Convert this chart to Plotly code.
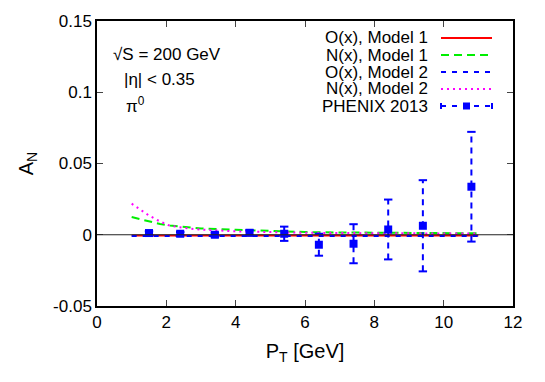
import plotly.graph_objects as go

# model curves
pt_model = [1.0, 1.33, 1.5, 1.82, 2.1, 2.7, 3.0, 4.0, 5.0, 6.0, 7.0, 8.0, 9.0, 10.0, 11.0]
o_model1 = [-0.0005] * len(pt_model)
n_model1 = [0.0124, 0.0105, 0.0093, 0.0075, 0.0065, 0.0049, 0.0044, 0.0035, 0.0026, 0.0019, 0.0016, 0.0014, 0.0012, 0.0011, 0.0010]
o_model2 = [-0.0008] * len(pt_model)
n_model2 = [0.0218, 0.0164, 0.0135, 0.0093, 0.0063, 0.0042, 0.0036, 0.0024, 0.0018, 0.0014, 0.0012, 0.0010, 0.0009, 0.0008, 0.0008]

# PHENIX 2013 data
pt_data = [1.5, 2.4, 3.4, 4.4, 5.4, 6.4, 7.4, 8.4, 9.4, 10.8]
an_data = [0.0012, 0.0007, 0.0, 0.0014, 0.0007, -0.007, -0.0063, 0.0037, 0.0063, 0.0337]
an_err = [0.0012, 0.0012, 0.0014, 0.0018, 0.005, 0.0077, 0.0137, 0.021, 0.032, 0.0385]

x_ticks = [0, 2, 4, 6, 8, 10, 12]
y_ticks = [-0.05, 0, 0.05, 0.1, 0.15]
y_tick_text = ["-0.05", "0", "0.05", "0.1", "0.15"]

FONT = "Liberation Sans, Arial, Helvetica, sans-serif"
FS = 17
BLUE = "#0000ff"
DASH_G = "8px,5px"
DASH_B = "5px,6px"
DASH_M = "2px,4px"

fig = go.Figure()

# zero line
fig.add_hline(y=0, line=dict(color="#222222", width=1))

fig.add_trace(go.Scatter(x=pt_model, y=o_model1, mode="lines",
                         line=dict(color="#ff0000", width=2), showlegend=False))
fig.add_trace(go.Scatter(x=pt_model, y=n_model1, mode="lines",
                         line=dict(color="#00ee00", width=2, dash=DASH_G), showlegend=False))
fig.add_trace(go.Scatter(x=pt_model, y=o_model2, mode="lines",
                         line=dict(color=BLUE, width=2, dash=DASH_B), showlegend=False))
fig.add_trace(go.Scatter(x=pt_model, y=n_model2, mode="lines",
                         line=dict(color="#ff00ff", width=2, dash=DASH_M), showlegend=False))

# dashed error bars
ex, ey = [], []
cx, cy = [], []
for x, y, e in zip(pt_data, an_data, an_err):
    ex += [x, x, None]
    ey += [y - e, y + e, None]
    cx += [x, x]
    cy += [y - e, y + e]
fig.add_trace(go.Scatter(x=ex, y=ey, mode="lines",
                         line=dict(color=BLUE, width=2, dash="6px,5px"), showlegend=False))
fig.add_trace(go.Scatter(x=cx, y=cy, mode="markers",
                         marker=dict(symbol="line-ew", size=6, line=dict(color=BLUE, width=2)),
                         showlegend=False))
fig.add_trace(go.Scatter(x=pt_data, y=an_data, mode="markers",
                         marker=dict(symbol="square", size=8, color=BLUE), showlegend=False))

# legend drawn by hand (gnuplot style: text left, sample right)
legend_rows = [
    ("O(x), Model 1", "#ff0000", "solid"),
    ("N(x), Model 1", "#00ee00", DASH_G),
    ("O(x), Model 2", BLUE, DASH_B),
    ("N(x), Model 2", "#ff00ff", DASH_M),
    ("PHENIX 2013", BLUE, DASH_B),
]
row_py = [38, 55, 72, 89, 106]


def px_x(p):
    return (p - 97) / 416


def px_y(p):
    return (306 - p) / 285


for (label, color, dash), py in zip(legend_rows, row_py):
    fig.add_annotation(x=px_x(430), y=px_y(py), xref="paper", yref="paper",
                       text=label, showarrow=False, xanchor="right", yanchor="middle",
                       font=dict(size=FS, color="black", family=FONT))
    fig.add_shape(type="line", xref="paper", yref="paper",
                  x0=px_x(441), x1=px_x(492), y0=px_y(py), y1=px_y(py),
                  line=dict(color=color, width=2, dash=dash))
# PHENIX sample: square and end caps
fig.add_shape(type="rect", xref="paper", yref="paper",
              x0=px_x(463), x1=px_x(470), y0=px_y(109.5), y1=px_y(102.5),
              fillcolor=BLUE, line=dict(width=0))
for cap in (441, 492):
    fig.add_shape(type="line", xref="paper", yref="paper",
                  x0=px_x(cap), x1=px_x(cap), y0=px_y(103), y1=px_y(109),
                  line=dict(color=BLUE, width=2))

# text labels
fig.add_annotation(x=px_x(111), y=px_y(43), xref="paper", yref="paper",
                   text="√S = 200 GeV", showarrow=False, xanchor="left",
                   font=dict(size=FS, color="black", family=FONT))
fig.add_annotation(x=px_x(122), y=px_y(68), xref="paper", yref="paper",
                   text="|η| < 0.35", showarrow=False, xanchor="left",
                   font=dict(size=FS, color="black", family=FONT))
fig.add_annotation(x=px_x(124), y=px_y(92), xref="paper", yref="paper",
                   text="π<sup>0</sup>", showarrow=False, xanchor="left",
                   font=dict(size=FS, color="black", family=FONT))

# page body adds ~8px offset, so margins are trimmed to land the plot area
fig.update_layout(
    width=545, height=382,
    margin=dict(l=89, r=40, t=13, b=84),
    paper_bgcolor="white", plot_bgcolor="white",
    font=dict(family=FONT, size=FS, color="black"),
    showlegend=False,
    xaxis=dict(range=[0, 12], tickvals=x_ticks, ticks="inside", ticklen=6,
               showline=True, mirror="ticks", linecolor="black", linewidth=1.5,
               showgrid=False, zeroline=False, automargin=False,
               title=dict(text="P<sub>T</sub> [GeV]", standoff=13)),
    yaxis=dict(range=[-0.05, 0.15], tickvals=y_ticks, ticktext=y_tick_text,
               ticks="inside", ticklen=6,
               showline=True, mirror="ticks", linecolor="black", linewidth=1.5,
               showgrid=False, zeroline=False, automargin=False,
               title=dict(text="A<sub>N</sub>", standoff=14)),
)

fig.write_html("out.html")
